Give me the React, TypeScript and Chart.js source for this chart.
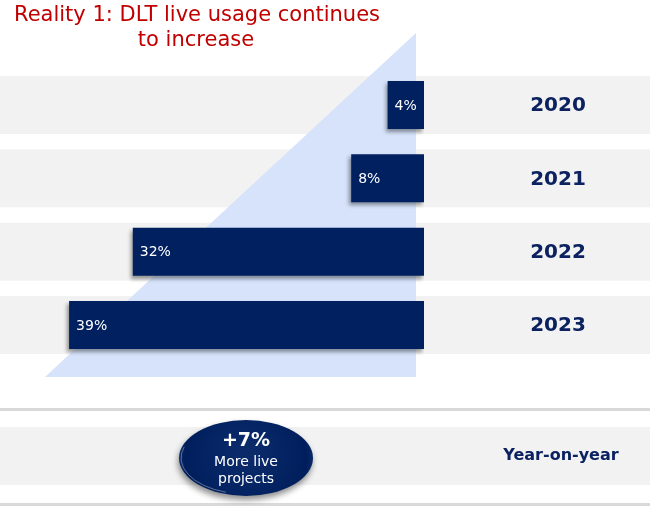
import React, { useEffect, useRef } from "react";
import { Chart, registerables } from "chart.js";

Chart.register(...registerables);

// ---- data ----
const years = ["2020", "2021", "2022", "2023"];
const liveUsage = [4, 8, 32, 39];
const valueLabels = ["4%", "8%", "32%", "39%"];
const titleLines = ["Reality 1: DLT live usage continues", "to increase"];
const yoyChange = "+7%";
const yoyLines = ["More live", "projects"];
const yoyLabel = "Year-on-year";

const NAVY = "#002060";
const TEXT_NAVY = "#0b2160";
const RED = "#c00000";
const BAND = "#f2f2f2";
const TRI = "#d6e3fb";
const FONT = '"DejaVu Sans", "Noto Sans", sans-serif';

const decorPlugin = {
  id: "decor",
  beforeDraw(chart: any) {
    const { ctx } = chart;
    const x = chart.scales.x;
    const y = chart.scales.y;
    ctx.save();
    ctx.fillStyle = "#ffffff";
    ctx.fillRect(0, 0, chart.width, chart.height);

    // bands
    ctx.fillStyle = BAND;
    years.forEach((_, i) => {
      const cy = y.getPixelForValue(i);
      ctx.fillRect(0, cy - 29, chart.width, 58);
    });

    // triangle
    const right = x.getPixelForValue(0) - 8;
    ctx.fillStyle = TRI;
    ctx.beginPath();
    ctx.moveTo(right, 33);
    ctx.lineTo(right, 377);
    ctx.lineTo(45, 377);
    ctx.closePath();
    ctx.fill();

    // title
    ctx.fillStyle = RED;
    ctx.font = `21px ${FONT}`;
    ctx.textAlign = "center";
    ctx.textBaseline = "alphabetic";
    ctx.fillText(titleLines[0], 197, 21);
    ctx.fillText(titleLines[1], 196, 46);

    // year labels
    ctx.fillStyle = TEXT_NAVY;
    ctx.font = `bold 20px ${FONT}`;
    ctx.textBaseline = "middle";
    years.forEach((yr, i) => {
      ctx.fillText(yr, 558, y.getPixelForValue(i) + 1);
    });

    // bottom section
    ctx.fillStyle = "#d9d9d9";
    ctx.fillRect(0, 408, chart.width, 3);
    ctx.fillRect(0, 503, chart.width, 3);
    ctx.fillStyle = BAND;
    ctx.fillRect(0, 427, chart.width, 58);

    // ellipse
    ctx.save();
    ctx.shadowColor = "rgba(0,0,0,0.45)";
    ctx.shadowBlur = 6;
    ctx.shadowOffsetX = -1;
    ctx.shadowOffsetY = 4;
    const g = ctx.createRadialGradient(246, 452, 10, 246, 458, 70);
    g.addColorStop(0, "#0a2a6a");
    g.addColorStop(0.85, "#001e5c");
    g.addColorStop(1, "#13306f");
    ctx.fillStyle = g;
    ctx.beginPath();
    ctx.ellipse(246, 458, 67, 38, 0, 0, Math.PI * 2);
    ctx.fill();
    ctx.restore();
    ctx.strokeStyle = "rgba(255,255,255,0.35)";
    ctx.lineWidth = 1;
    ctx.beginPath();
    ctx.ellipse(246, 458, 65, 36, 0, Math.PI * 0.6, Math.PI * 1.1);
    ctx.stroke();

    ctx.fillStyle = "#ffffff";
    ctx.textAlign = "center";
    ctx.textBaseline = "middle";
    ctx.font = `bold 19px ${FONT}`;
    ctx.fillText(yoyChange, 246, 441);
    ctx.font = `14px ${FONT}`;
    ctx.fillText(yoyLines[0], 246, 462);
    ctx.fillText(yoyLines[1], 246, 479);

    ctx.fillStyle = TEXT_NAVY;
    ctx.font = `bold 16px ${FONT}`;
    ctx.fillText(yoyLabel, 561, 456);
    ctx.restore();
  },
  beforeDatasetsDraw(chart: any) {
    const { ctx } = chart;
    ctx.save();
    ctx.shadowColor = "rgba(0,0,0,0.4)";
    ctx.shadowBlur = 4;
    ctx.shadowOffsetX = -2;
    ctx.shadowOffsetY = 3;
  },
  afterDatasetsDraw(chart: any) {
    const { ctx } = chart;
    ctx.restore();
    const meta = chart.getDatasetMeta(0);
    ctx.save();
    ctx.fillStyle = "#ffffff";
    ctx.font = `14px ${FONT}`;
    ctx.textAlign = "left";
    ctx.textBaseline = "middle";
    meta.data.forEach((el: any, i: number) => {
      ctx.fillText(valueLabels[i], el.x + 7, el.y + 1);
    });
    ctx.restore();
  },
};

export default function App() {
  const ref = useRef<HTMLCanvasElement>(null);
  useEffect(() => {
    if (!ref.current) return;
    const chart = new Chart(ref.current, {
      type: "bar",
      data: {
        labels: years,
        datasets: [
          {
            data: liveUsage,
            backgroundColor: NAVY,
            borderWidth: 0,
            categoryPercentage: 1,
            barPercentage: 0.655,
          },
        ],
      },
      options: {
        indexAxis: "y",
        responsive: false,
        animation: false,
        devicePixelRatio: 1,
        layout: { padding: { left: 14.5, right: 226, top: 68.3, bottom: 150.3 } },
        scales: {
          x: { type: "linear", reverse: true, min: 0, max: 45, display: false },
          y: { type: "category", display: false },
        },
        plugins: {
          legend: { display: false },
          tooltip: { enabled: false },
          title: { display: false },
        },
      },
      plugins: [decorPlugin],
    } as any);
    return () => chart.destroy();
  }, []);
  return (
    <div style={{ position: "fixed", left: 0, top: 0, width: 650, height: 512 }}>
      <canvas ref={ref} width={650} height={512} />
    </div>
  );
}
